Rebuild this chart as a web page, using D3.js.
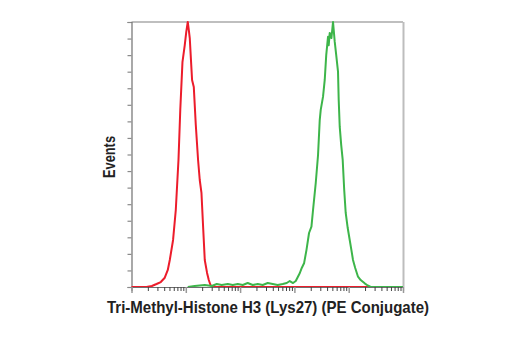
<!DOCTYPE html>
<html>
<head>
<meta charset="utf-8">
<script src="https://cdn.jsdelivr.net/npm/d3@7"></script>
<style>
  html, body { margin: 0; padding: 0; background: #fff; }
  svg { display: block; }
  .lbl { font-family: "Liberation Sans Narrow", "Liberation Sans", Arial, sans-serif; font-weight: bold; fill: #222; }
</style>
</head>
<body>
<svg id="chart" width="520" height="350"></svg>
<script>
// Fluorescence intensity (log scale) and event counts for each histogram
const redIntensity = [1, 1.89, 2.37, 2.89, 3.46, 4.10, 4.66, 5.07, 5.83, 6.54, 7.33, 7.91, 8.68, 9.57, 10.2, 10.87, 11.35, 11.83, 12.45, 13.05, 14.03, 15.28, 16.83, 18.07, 19.43, 20.98, 22.35, 24.64, 26.5, 28.5, 31.4, 100000];
const redCounts    = [0, 0, 0.6, 1.8, 3.0, 5.6, 10.3, 16.3, 28.4, 46.5, 76.7, 106.9, 135.8, 146.1, 154, 160, 155.2, 150.3, 137, 125, 120.8, 97.8, 76.7, 64.6, 56.8, 34.4, 16.3, 8.5, 4.2, 1.2, 0, 0];

const greenIntensity = [10.87, 14.6, 22.35, 30.1, 37.2, 45.9, 59.3, 73.3, 90.6, 112, 138, 171, 211, 261, 323, 399, 493, 610, 722, 821, 944, 1059, 1254, 1366, 1506, 1667, 1861, 2060, 2204, 2472, 2725, 2928, 3054, 3367, 3619, 3856, 4160, 4285, 4473, 4807, 5144, 5528, 5891, 6356, 6546, 6834, 7280, 7754, 8268, 8810, 9590, 10440, 11220, 12000, 13180, 14840, 16630, 19690, 22380, 25430, 100000];
const greenCounts    = [0, 0.6, 1.2, 0.6, 1.8, 1.2, 1.8, 1.2, 1.8, 1.2, 2.4, 1.2, 1.8, 1.2, 2.4, 1.8, 1.2, 1.8, 2.4, 3.6, 2.4, 3.6, 8.3, 11.5, 14.3, 22.3, 32.6, 36.4, 46.5, 62.8, 79.7, 100.8, 106.9, 114.9, 125, 140, 151.1, 146, 153.4, 150.3, 160, 148.1, 140, 130, 112.9, 96.8, 85.7, 76.7, 58.6, 44.7, 35.6, 28.4, 22.3, 16.3, 11.5, 6.2, 4.2, 2.2, 0.9, 0, 0];

const yTicks = d3.range(0, 161, 10);
const xDomain = [1, 100000];
const yDomain = [0, 160];
const xTitle = "Tri-Methyl-Histone H3 (Lys27) (PE Conjugate)";
const yTitle = "Events";

const svg = d3.select("#chart");
const plotL = 131.5, plotR = 403, plotT = 22, plotB = 287;

const x = d3.scaleLog().domain(xDomain).range([plotL, plotR]);
const y = d3.scaleLinear().domain(yDomain).range([plotB, plotT]);

// Frame: top and right edges
svg.append("line").attr("x1", plotL).attr("x2", plotR).attr("y1", plotT).attr("y2", plotT)
  .attr("stroke", "#808080").attr("stroke-width", 1.2);
svg.append("line").attr("x1", plotR + 0.5).attr("x2", plotR + 0.5).attr("y1", plotT).attr("y2", plotB)
  .attr("stroke", "#bdbdbd").attr("stroke-width", 2);

// Left axis with unlabeled ticks
const yAxis = d3.axisLeft(y).tickValues(yTicks).tickSize(4).tickFormat("");
const gy = svg.append("g").attr("transform", `translate(${plotL},0)`).call(yAxis);
gy.select(".domain").attr("stroke", "#707070").attr("stroke-width", 1.2);
gy.selectAll(".tick line").attr("stroke", "#8a8a8a").attr("stroke-width", 1.2);

// Histograms
const line = d3.line().x(d => x(d[0])).y(d => y(d[1]));
svg.append("path")
  .datum(redIntensity.map((v, i) => [v, redCounts[i]]))
  .attr("d", line).attr("fill", "none")
  .attr("stroke", "#ec1c2b").attr("stroke-width", 2).attr("stroke-linejoin", "round");
svg.append("path")
  .datum(greenIntensity.map((v, i) => [v, greenCounts[i]]))
  .attr("d", line).attr("fill", "none")
  .attr("stroke", "#3db54a").attr("stroke-width", 2).attr("stroke-linejoin", "round");

// Bottom log axis: minor ticks at 2..9 of each decade, longer major ticks at decades
const majors = d3.range(0, 6).map(p => Math.pow(10, p));
const minors = [];
for (let p = 0; p < 5; p++) for (let m = 2; m <= 9; m++) minors.push(m * Math.pow(10, p));

const gxMinor = svg.append("g").attr("transform", `translate(0,${plotB})`)
  .call(d3.axisBottom(x).tickValues(minors).tickSize(4).tickFormat(""));
gxMinor.select(".domain").attr("stroke", "#6f6f6f").attr("stroke-width", 1.2);
gxMinor.selectAll(".tick line").attr("stroke", "#444").attr("stroke-width", 1);

const gxMajor = svg.append("g").attr("transform", `translate(0,${plotB})`)
  .call(d3.axisBottom(x).tickValues(majors).tickSize(6).tickFormat(""));
gxMajor.select(".domain").remove();
gxMajor.selectAll(".tick line").attr("stroke", "#999").attr("stroke-width", 1.5);

// Titles
svg.append("text").attr("class", "lbl")
  .attr("x", 268).attr("y", 313).attr("text-anchor", "middle")
  .attr("font-size", 17).attr("textLength", 322).attr("lengthAdjust", "spacingAndGlyphs")
  .text(xTitle);
svg.append("text").attr("class", "lbl")
  .attr("transform", "translate(115,157) rotate(-90)")
  .attr("text-anchor", "middle").attr("font-size", 16)
  .attr("textLength", 42).attr("lengthAdjust", "spacingAndGlyphs")
  .text(yTitle);
</script>
</body>
</html>
